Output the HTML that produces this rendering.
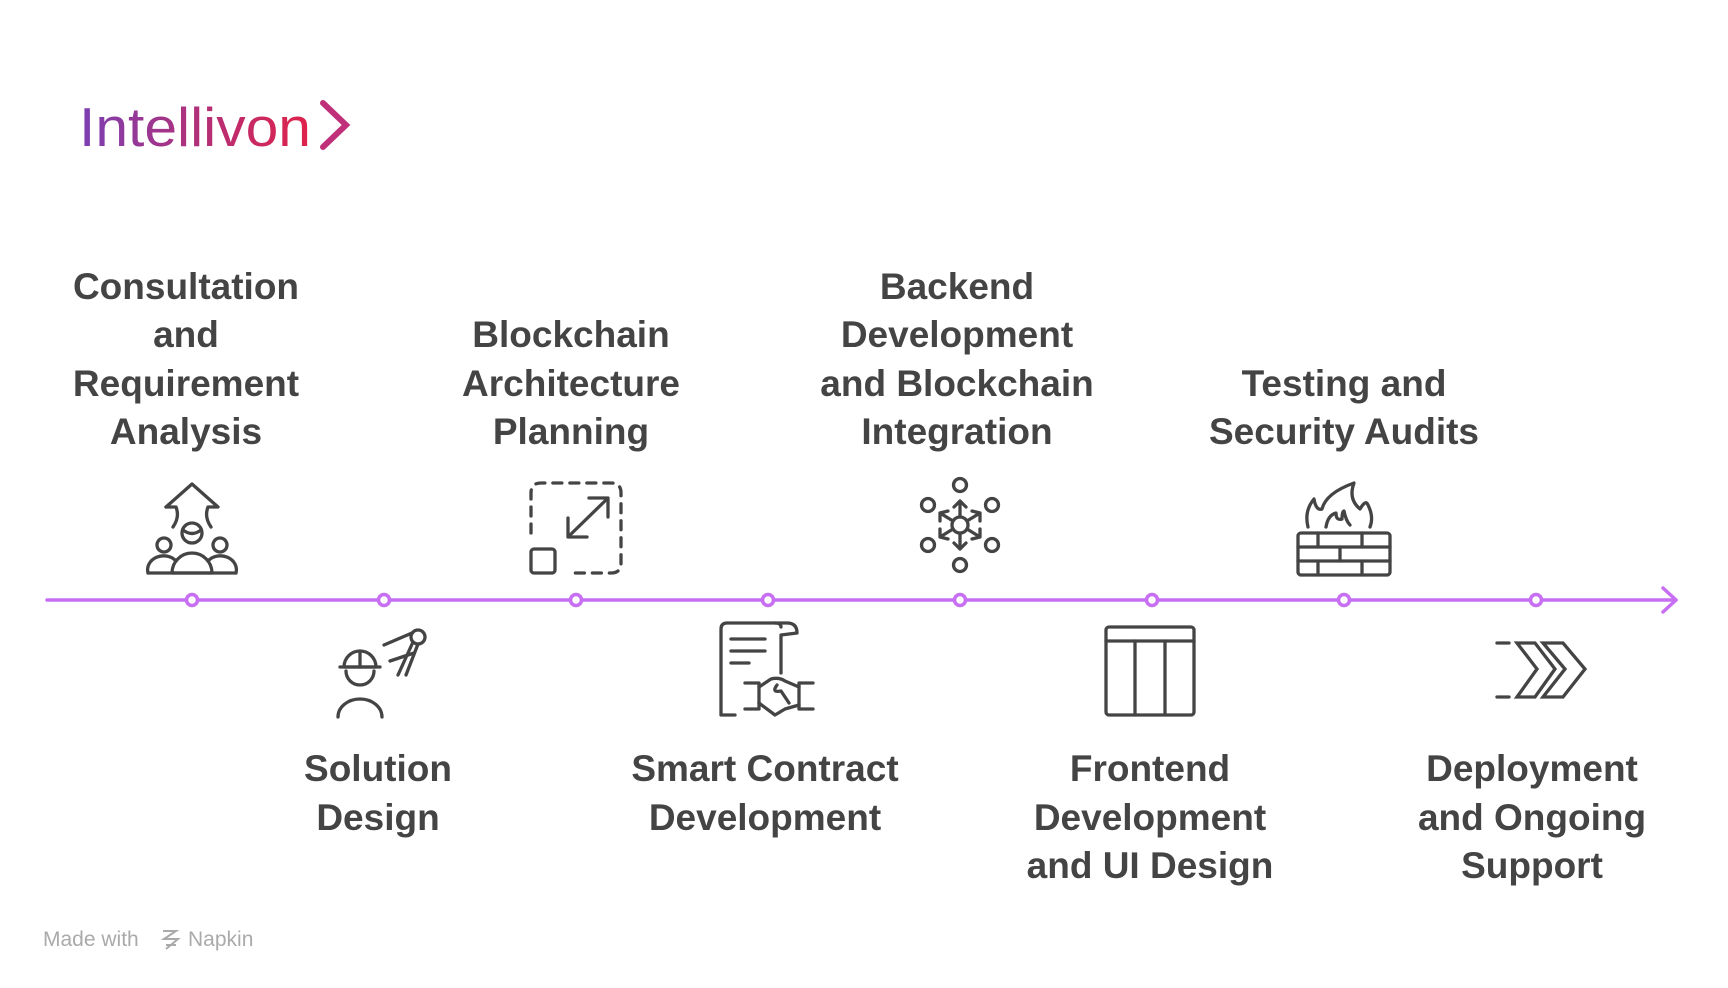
<!DOCTYPE html>
<html><head><meta charset="utf-8"><style>
html,body{margin:0;padding:0;background:#fff;width:1728px;height:988px;overflow:hidden}
svg{display:block}
.t{font-family:"Liberation Sans",Arial,sans-serif;font-weight:bold;font-size:37px;fill:#444;text-anchor:middle}
.ic{fill:none;stroke:#444;stroke-width:3.3;stroke-linecap:round;stroke-linejoin:round}
</style></head><body>
<svg width="1728" height="988" viewBox="0 0 1728 988" xmlns="http://www.w3.org/2000/svg">
<defs>
<linearGradient id="g" x1="0" x2="1" y1="0" y2="0">
<stop offset="0" stop-color="#7b3fb3"/><stop offset="0.5" stop-color="#b0307a"/><stop offset="1" stop-color="#e0224a"/>
</linearGradient>
</defs>
<text x="79" y="146" font-family="Liberation Sans, Arial, sans-serif" font-size="55" fill="url(#g)" textLength="232" lengthAdjust="spacingAndGlyphs">Intellivon</text>
<path d="M323,103 L346,125 L323,147" fill="none" stroke="#c0307a" stroke-width="6" stroke-linecap="round"/>

<!-- timeline -->
<line x1="47" y1="600" x2="1676" y2="600" stroke="#c76ef2" stroke-width="3.5" stroke-linecap="round"/>
<path d="M1663,588 L1676,600 L1663,612" fill="none" stroke="#c76ef2" stroke-width="3.5" stroke-linecap="round" stroke-linejoin="round"/>
<g fill="#fff" stroke="#c76ef2" stroke-width="3.5">
<circle cx="192" cy="600" r="5.5"/><circle cx="384" cy="600" r="5.5"/><circle cx="576" cy="600" r="5.5"/><circle cx="768" cy="600" r="5.5"/>
<circle cx="960" cy="600" r="5.5"/><circle cx="1152" cy="600" r="5.5"/><circle cx="1344" cy="600" r="5.5"/><circle cx="1536" cy="600" r="5.5"/>
</g>

<!-- top labels -->
<text class="t" x="186" y="299">Consultation</text>
<text class="t" x="186" y="347">and</text>
<text class="t" x="186" y="396">Requirement</text>
<text class="t" x="186" y="444">Analysis</text>

<text class="t" x="571" y="347">Blockchain</text>
<text class="t" x="571" y="396">Architecture</text>
<text class="t" x="571" y="444">Planning</text>

<text class="t" x="957" y="299">Backend</text>
<text class="t" x="957" y="347">Development</text>
<text class="t" x="957" y="396">and Blockchain</text>
<text class="t" x="957" y="444">Integration</text>

<text class="t" x="1344" y="396">Testing and</text>
<text class="t" x="1344" y="444">Security Audits</text>

<!-- bottom labels -->
<text class="t" x="378" y="781">Solution</text>
<text class="t" x="378" y="830">Design</text>

<text class="t" x="765" y="781">Smart Contract</text>
<text class="t" x="765" y="830">Development</text>

<text class="t" x="1150" y="781">Frontend</text>
<text class="t" x="1150" y="830">Development</text>
<text class="t" x="1150" y="878">and UI Design</text>

<text class="t" x="1532" y="781">Deployment</text>
<text class="t" x="1532" y="830">and Ongoing</text>
<text class="t" x="1532" y="878">Support</text>

<!-- icon 1 -->
<g class="ic" transform="translate(146,481)">
<path d="M20,26 L46,3 L72,26 L62,26 Q58,36 65,46"/>
<path d="M20,26 L30,26 Q34,36 27,46"/>
<circle cx="46" cy="52" r="10"/><path d="M37,49 Q46,56 55,49"/>
<circle cx="18" cy="64" r="7"/><circle cx="74" cy="64" r="7"/>
<path d="M26,92 A20,20 0 0 1 66,92 Z"/>
<path d="M2,92 A16,14 0 0 1 30,80"/><path d="M90,92 A16,14 0 0 0 62,80"/><path d="M2,92 L90,92"/>
</g>

<!-- icon 2 solution design -->
<g class="ic" transform="translate(336,625)">
<path d="M8,42 A16,16 0 0 1 40,42 Z"/><path d="M24,26 L24,42"/><path d="M4,42 L44,42"/>
<path d="M10,46 A14,14 0 0 0 38,46"/>
<path d="M2,92 A22,18 0 0 1 46,92"/>
<circle cx="82" cy="12" r="7"/>
<path d="M77,17 L62,50"/><path d="M82,19 L70,50"/>
<path d="M76,8 L48,20"/><path d="M54,36 L78,28"/>
</g>

<!-- icon 3 dashed square -->
<g class="ic" transform="translate(529,481)">
<path d="M2,52 L2,12 Q2,2 12,2 L82,2 Q92,2 92,12 L92,82 Q92,92 82,92 L40,92" stroke-dasharray="9,8"/>
<rect x="2" y="68" width="24" height="24" rx="3"/>
<path d="M40,55 L78,18"/><path d="M60,17 L79,17 L79,36"/><path d="M39,37 L39,56 L58,56"/>
</g>

<!-- icon 4 document handshake -->
<g class="ic" transform="translate(719,621)">
<path d="M62,6 Q62,2 56,2 L8,2 Q2,2 2,8 L2,94 L16,94"/>
<path d="M56,2 L68,2 Q78,2 78,12 L62,14 L62,52"/>
<path d="M12,18 L46,18"/><path d="M12,30 L46,30"/><path d="M12,42 L30,42"/>
<path d="M26,62 L40,62 L40,88 L26,88"/><path d="M94,62 L80,62 L80,88 L94,88"/>
<path d="M40,66 L52,58 Q60,56 66,60 L80,66"/>
<path d="M40,82 L56,94 L66,88 L80,84"/>
<path d="M58,64 Q52,72 62,70 L70,82"/>
</g>

<!-- icon 5 network -->
<g class="ic" transform="translate(960,525)">
<circle cx="0" cy="0" r="8"/>
<circle cx="0" cy="-40" r="6.5"/><circle cx="0" cy="40" r="6.5"/>
<circle cx="-32" cy="-20" r="6.5"/><circle cx="32" cy="-20" r="6.5"/>
<circle cx="-32" cy="20" r="6.5"/><circle cx="32" cy="20" r="6.5"/>
<path d="M0,-8 L0,-24 M-6,-18 L0,-24 L6,-18"/>
<path d="M0,8 L0,24 M-6,18 L0,24 L6,18"/>
<path d="M-7,-4 L-20,-12 M-20,-4 L-20,-12 L-12,-14"/>
<path d="M7,-4 L20,-12 M20,-4 L20,-12 L12,-14"/>
<path d="M-7,4 L-20,12 M-20,4 L-20,12 L-12,14"/>
<path d="M7,4 L20,12 M20,4 L20,12 L12,14"/>
</g>

<!-- icon 6 table -->
<g class="ic" transform="translate(1104,625)">
<rect x="2" y="2" width="88" height="88" rx="3"/>
<path d="M2,16 L90,16"/><path d="M31,16 L31,90"/><path d="M61,16 L61,90"/>
</g>

<!-- icon 7 firewall -->
<g class="ic" transform="translate(1296,481)">
<rect x="2" y="52" width="92" height="42" rx="3"/>
<path d="M2,66 L94,66"/><path d="M2,80 L94,80"/>
<path d="M22,52 L22,66"/><path d="M66,52 L66,66"/>
<path d="M44,66 L44,80"/>
<path d="M22,80 L22,94"/><path d="M66,80 L66,94"/>
<path d="M12,46 Q8,30 18,18 Q20,30 26,28 Q30,12 58,2 Q52,18 64,28 Q70,18 72,24 Q78,36 74,46"/>
<path d="M30,46 Q32,34 40,32 Q40,40 46,38 Q46,30 48,30 Q50,40 54,44"/>
</g>

<!-- icon 8 chevrons -->
<g class="ic" transform="translate(1495,641)">
<path d="M2,2 L14,2"/><path d="M2,56 L14,56"/>
<path d="M22,2 L40,2 L60,28 L40,56 L22,56 L42,28 Z" stroke-linejoin="miter"/>
<path d="M48,2 L68,2 L90,28 L68,56 L48,56 L70,28 Z" stroke-linejoin="miter"/>
</g>

<!-- footer -->
<text x="43" y="946" font-family="Liberation Sans, Arial, sans-serif" font-size="21" fill="#aaa">Made with</text>
<path d="M163,931 L176,931 L164,939 L178,939 L166,949 M166,945 L176,945" fill="none" stroke="#aaa" stroke-width="2"/>
<text x="188" y="946" font-family="Liberation Sans, Arial, sans-serif" font-size="21" fill="#aaa">Napkin</text>
</svg>
</body></html>
